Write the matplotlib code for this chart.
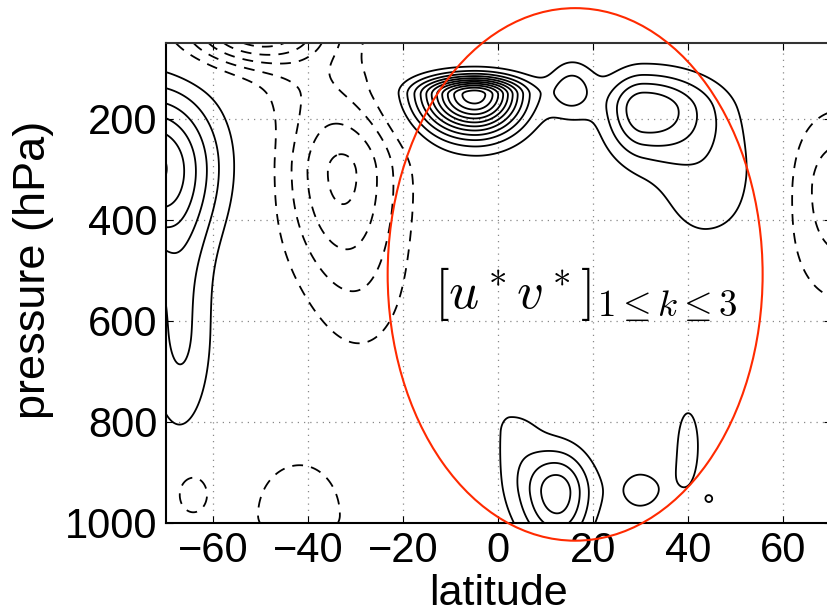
import numpy as np
import matplotlib
matplotlib.use("Agg")
import matplotlib.pyplot as plt
from matplotlib.patches import Ellipse

# blobs: centre lat, centre p, amplitude,
# width to the south / north (deg), width above / below (hPa)
pos_lat = [-5, 15.5, 30.5, 44, -74, -67, 12.5, 2.5, 30, 40, 44.5]
pos_p = [152, 142, 180, 320, 290, 620, 940, 820, 935, 845, 952]
pos_amp = [11.6, 2.4, 4.8, 1.5, 6, 2.2, 4.6, 1.3, 1.25, 1.3, 1.03]
pos_sxl = [8, 3.5, 5.5, 9, 10, 5, 5.5, 2.5, 4.5, 2.8, 1]
pos_sxr = [7, 3.5, 10, 11, 10, 5, 5, 5, 5, 2.8, 1]
pos_spt = [25, 40, 50, 90, 105, 200, 60, 38, 45, 86, 10]
pos_spb = [55, 40, 65, 110, 110, 150, 75, 90, 45, 86, 10]

neg_lat = [-50, -33, -28, -40, 72, -64.5, -42]
neg_p = [25, 305, 560, 135, 340, 942, 985]
neg_amp = [-6, -4.15, -0.9, -1.1, -2.8, -2.05, -1.4]
neg_sxl = [11, 8.8, 8, 8, 8.5, 2.4, 10.5]
neg_sxr = [11, 8.8, 8, 8, 8.5, 2.4, 10.5]
neg_spt = [50, 100, 120, 45, 110, 30, 120]
neg_spb = [50, 150, 120, 60, 150, 30, 60]

pos_levels = list(range(1, 13))
neg_levels = list(range(-7, 0))

xticks = [-60, -40, -20, 0, 20, 40, 60]
yticks = [200, 400, 600, 800, 1000]

lat = np.linspace(-70, 70, 561)
p = np.linspace(50, 1000, 476)
LAT, P = np.meshgrid(lat, p)

def blob_field(lats, ps, amps, sxl, sxr, spt, spb):
    out = np.zeros_like(LAT)
    for i in range(len(lats)):
        dx = LAT - lats[i]
        dp = P - ps[i]
        sx = np.where(dx < 0, sxl[i], sxr[i])
        sp = np.where(dp < 0, spt[i], spb[i])
        out += amps[i] * np.exp(-0.5 * ((dx / sx) ** 2 + (dp / sp) ** 2))
    return out

field = blob_field(pos_lat, pos_p, pos_amp, pos_sxl, pos_sxr, pos_spt, pos_spb)
field += blob_field(neg_lat, neg_p, neg_amp, neg_sxl, neg_sxr, neg_spt, neg_spb)

plt.rcParams['font.family'] = ['Liberation Sans', 'DejaVu Sans']
plt.rcParams['mathtext.fontset'] = 'cm'

fig = plt.figure(figsize=(8.27, 6.16), dpi=100)
ax = fig.add_axes([166 / 827, 93 / 616, 664.5 / 827, 480 / 616])

ax.contour(LAT, P, field, levels=pos_levels, colors='k',
           linewidths=1.3, linestyles='solid')
ax.contour(LAT, P, field, levels=neg_levels, colors='k',
           linewidths=1.3, linestyles=[(0, (6, 4.5))])

ax.set_xlim(-70, 70)
ax.set_ylim(1000, 50)
ax.set_xticks(xticks)
ax.set_yticks(yticks)
ax.set_xticklabels(['\u2212%d' % -t if t < 0 else str(t) for t in xticks])
ax.tick_params(direction='in', top=True, right=True, length=5,
               labelsize=30, pad=6)
ax.grid(True, linestyle=(0, (1, 4)), color='#888888', linewidth=0.9)
for s in ax.spines.values():
    s.set_linewidth(1.5)
ax.spines['top'].set_color('#333333')
ax.set_xlabel('latitude', fontsize=31, labelpad=2)
ax.set_ylabel('pressure (hPa)', fontsize=32.5)
ax.yaxis.set_label_coords(-0.168, 0.527)

# red ellipse drawn over the plot, allowed outside the axes
ell = Ellipse((16.2, 508), width=79, height=1054, fill=False,
              edgecolor='#ff2a00', linewidth=1.5, clip_on=False, zorder=5)
ax.add_patch(ell)

ax.text(-13.5, 574, r'$[u^*v^*]_{1\leq k\leq 3}$', fontsize=38,
        ha='left', va='baseline')

fig.savefig('out.png', dpi=100)
